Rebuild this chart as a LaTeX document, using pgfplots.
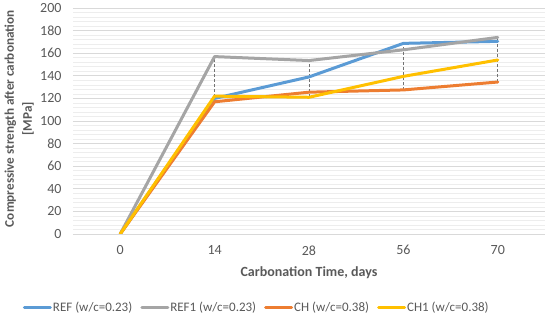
\documentclass[border=0pt]{standalone}
\usepackage{pgfplots}
\pgfplotsset{compat=1.18}
\usepackage{fontspec}
\setmainfont{Carlito}
\definecolor{cref}{HTML}{5B9BD5}
\definecolor{cref1}{HTML}{A5A5A5}
\definecolor{cch}{HTML}{ED7D31}
\definecolor{cch1}{HTML}{FFC000}
\definecolor{txtc}{HTML}{595959}
\definecolor{gridc}{HTML}{D9D9D9}
\definecolor{mgridc}{HTML}{EDEDED}
\begin{document}
\begin{tikzpicture}
\useasboundingbox (-73pt,-87pt) rectangle (477pt,234pt);
\begin{axis}[
  at={(0,0)}, anchor=south west,
  scale only axis, width=472pt, height=226pt,
  xmin=-0.5, xmax=4.5, ymin=0, ymax=200,
  xtick={0,1,2,3,4}, xticklabels={0,14,28,56,70},
  ytick={0,20,...,200},
  minor y tick num=4,
  xmajorgrids=false,
  ymajorgrids=true, yminorgrids=true,
  major grid style={color=gridc, line width=0.8pt, solid},
  minor grid style={color=mgridc, line width=0.6pt, solid},
  axis line style={draw=none},
  major tick length=0pt, minor tick length=0pt,
  ticklabel style={font=\fontsize{14}{16}\selectfont, text=txtc},
  /pgf/number format/assume math mode=true,
  xticklabel style={yshift=-8pt},
  yticklabel style={xshift=-8pt},
  xlabel={\textbf{Carbonation Time, days}},
  xlabel style={font=\fontsize{14}{16}\selectfont, text=txtc, at={(axis description cs:0.5,-0.173)}, anchor=center},
  ylabel={\textbf{Compressive strength after carbonation}\\\textbf{[MPa]}},
  ylabel style={font=\fontsize{13.2}{18}\selectfont, text=txtc, align=center, at={(axis description cs:-0.114,0.51)}, anchor=center},
  legend columns=4,
  legend style={at={(-0.106,-0.327)}, anchor=west, draw=none, fill=none,
    font=\fontsize{13}{16}\selectfont, text=txtc,
    /tikz/every odd column/.style={column sep=1pt},
    /tikz/every even column/.style={column sep=8pt},
    inner sep=0pt, outer sep=0pt, nodes={inner sep=0pt, outer sep=0pt}},
  legend image code/.code={\draw[#1] (1.5pt,0pt) -- (27.5pt,0pt);},
  every axis plot/.append style={line width=3pt, line join=round, line cap=round},
]
% high-low dashed lines
\addplot[forget plot, color=black!55, line width=0.9pt, dash pattern=on 3pt off 2pt, line cap=butt, unbounded coords=jump] coordinates {
 (1,117) (1,157) (1,nan)
 (2,121) (2,153.5) (2,nan)
 (3,127.5) (3,168.7) (3,nan)
 (4,134.5) (4,174)
};
\addplot[cref] coordinates {(0,0) (1,120) (2,139) (3,168.7) (4,170.5)};
\addlegendentry{REF (w/c=0.23)}
\addplot[cref1] coordinates {(0,0) (1,157) (2,153.5) (3,163) (4,174)};
\addlegendentry{REF1 (w/c=0.23)}
\addplot[cch] coordinates {(0,0) (1,117) (2,125.5) (3,127.5) (4,134.5)};
\addlegendentry{CH (w/c=0.38)}
\addplot[cch1] coordinates {(0,0) (1,122) (2,121) (3,139.5) (4,154)};
\addlegendentry{CH1 (w/c=0.38)}
\end{axis}
\end{tikzpicture}
\end{document}
